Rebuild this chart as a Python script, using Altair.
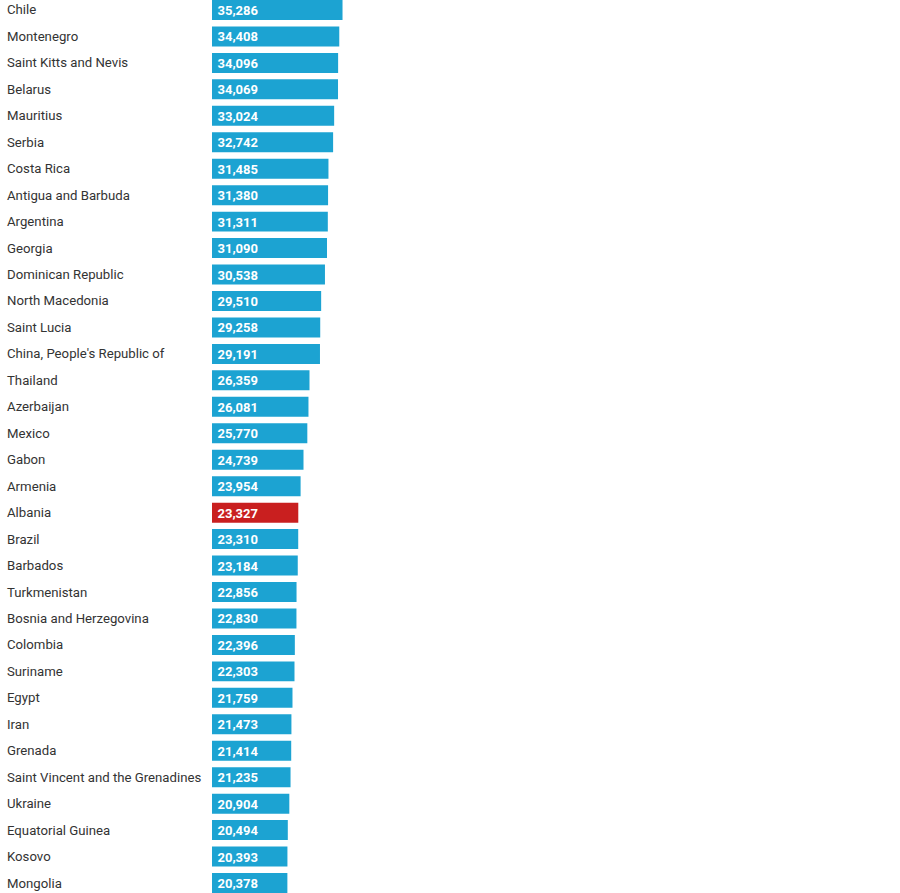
import altair as alt
import pandas as pd

# GDP per capita (PPP, current international $)
countries = [
    "Chile", "Montenegro", "Saint Kitts and Nevis", "Belarus", "Mauritius",
    "Serbia", "Costa Rica", "Antigua and Barbuda", "Argentina", "Georgia",
    "Dominican Republic", "North Macedonia", "Saint Lucia",
    "China, People's Republic of", "Thailand", "Azerbaijan", "Mexico", "Gabon",
    "Armenia", "Albania", "Brazil", "Barbados", "Turkmenistan",
    "Bosnia and Herzegovina", "Colombia", "Suriname", "Egypt", "Iran",
    "Grenada", "Saint Vincent and the Grenadines", "Ukraine",
    "Equatorial Guinea", "Kosovo", "Mongolia",
]
values = [
    35286, 34408, 34096, 34069, 33024,
    32742, 31485, 31380, 31311, 31090,
    30538, 29510, 29258,
    29191, 26359, 26081, 25770, 24739,
    23954, 23327, 23310, 23184, 22856,
    22830, 22396, 22303, 21759, 21473,
    21414, 21235, 20904,
    20494, 20393, 20378,
]
highlight = "Albania"

df = pd.DataFrame({"country": countries, "value": values})
df["label"] = df["value"].map(lambda v: f"{v:,}")

FONT = "Roboto"
y_enc = alt.Y(
    "country:N",
    sort=countries,
    axis=None,
    scale=alt.Scale(paddingInner=0.245, paddingOuter=0),
)

base = alt.Chart(df)

bars = base.mark_bar(cornerRadius=0).encode(
    x=alt.X("value:Q", axis=None, scale=alt.Scale(domain=[0, 186000], nice=False)),
    y=y_enc,
    color=alt.condition(
        alt.datum.country == highlight,
        alt.value("#c91f1f"),
        alt.value("#1ca3d2"),
    ),
)

values_text = base.mark_text(
    align="left", baseline="middle", dx=5.5, dy=1,
    font=FONT, fontSize=13, fontWeight="bold", color="white",
).encode(
    x=alt.value(0),
    y=y_enc,
    text="label:N",
)

names_text = base.mark_text(
    align="left", baseline="middle", dy=0.5,
    font=FONT, fontSize=13.2, color="#333333",
).encode(
    x=alt.value(-205),
    y=y_enc,
    text="country:N",
)

chart = (
    alt.layer(bars, values_text, names_text)
    .properties(
        width=688,
        height=893,
        autosize=alt.AutoSizeParams(type="none"),
        padding={"left": 212, "top": 0, "right": 0, "bottom": 0},
        background="white",
    )
    .configure_view(stroke=None)
)

chart.save("out.html", embed_options={"renderer": "svg", "actions": False})
